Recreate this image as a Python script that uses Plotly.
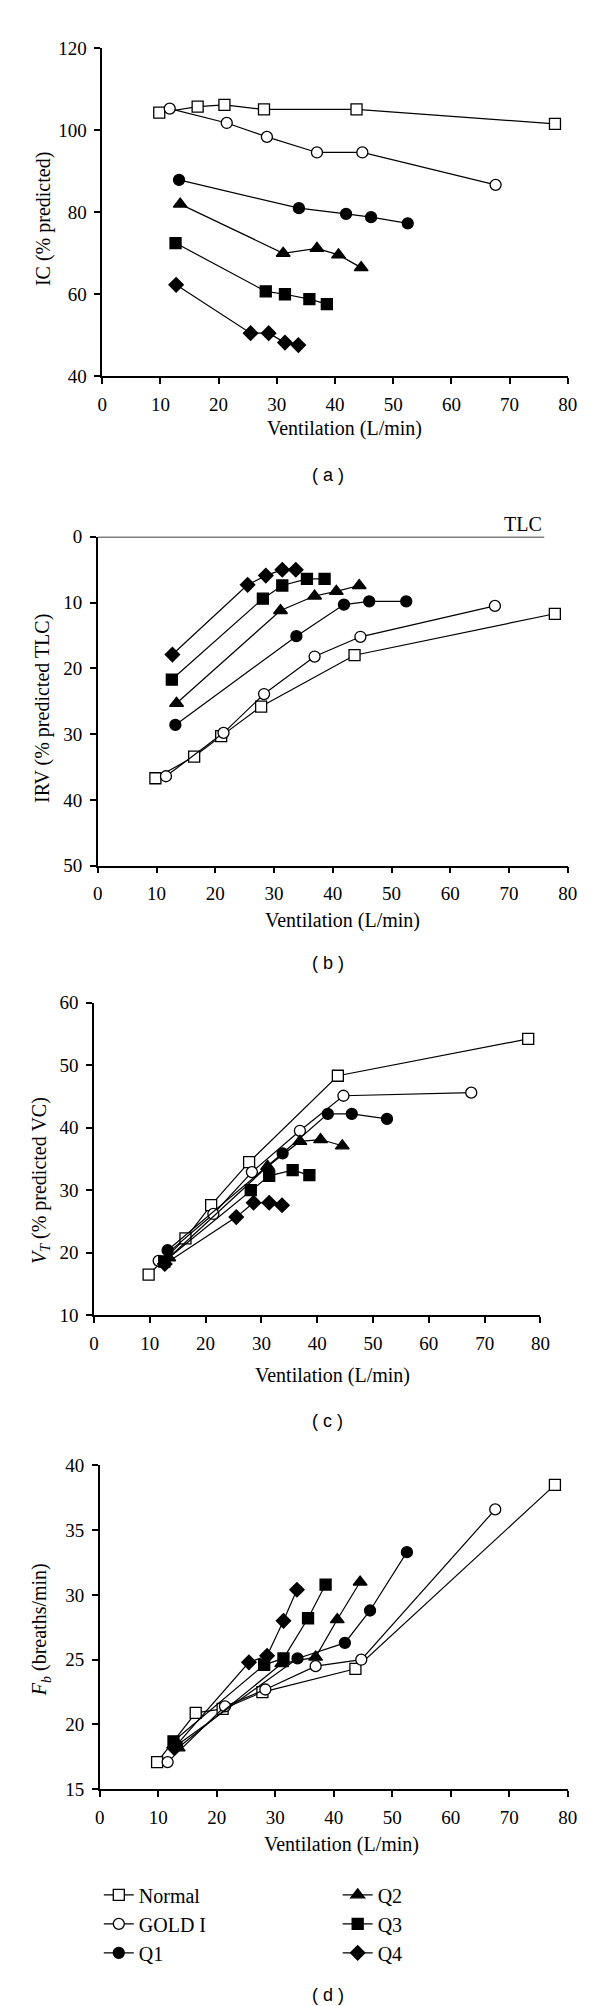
import plotly.graph_objects as go

W, H = 600, 2006

# ---------------- data ----------------
groups = ["Normal", "GOLD I", "Q1", "Q2", "Q3", "Q4"]

vent_normal = [9.8, 16.4, 21.0, 27.8, 43.7, 77.8]
vent_gold = [11.6, 21.4, 28.3, 36.9, 44.7, 67.6]
vent_q1 = [13.2, 33.8, 41.9, 46.2, 52.5]
vent_q2 = [13.4, 31.1, 36.9, 40.6, 44.5]
vent_q3 = [12.6, 28.1, 31.4, 35.6, 38.6]
vent_q4 = [12.7, 25.5, 28.6, 31.4, 33.7]

ic_normal = [104.3, 105.8, 106.2, 105.1, 105.1, 101.6]
ic_gold = [105.3, 101.8, 98.4, 94.6, 94.6, 86.7]
ic_q1 = [87.9, 81.0, 79.6, 78.8, 77.3]
ic_q2 = [82.0, 70.0, 71.2, 69.6, 66.5]
ic_q3 = [72.5, 60.7, 60.0, 58.8, 57.6]
ic_q4 = [62.3, 50.5, 50.5, 48.2, 47.6]

irv_normal = [36.7, 33.4, 30.3, 25.8, 18.0, 11.7]
irv_gold = [36.4, 29.8, 23.9, 18.2, 15.2, 10.5]
irv_q1 = [28.6, 15.1, 10.3, 9.8, 9.8]
irv_q2 = [25.3, 11.2, 9.0, 8.3, 7.4]
irv_q3 = [21.7, 9.4, 7.4, 6.4, 6.4]
irv_q4 = [17.9, 7.3, 5.9, 5.0, 5.0]

vt_normal = [16.5, 22.3, 27.6, 34.5, 48.3, 54.2]
vt_gold = [18.7, 26.2, 32.9, 39.5, 45.1, 45.6]
vt_q1 = [20.4, 35.9, 42.2, 42.2, 41.4]
vt_q2 = [19.2, 33.8, 37.8, 38.1, 37.1]
vt_q3 = [18.6, 30.0, 32.3, 33.2, 32.4]
vt_q4 = [18.2, 25.7, 28.0, 28.0, 27.6]

fb_normal = [17.1, 20.9, 21.2, 22.5, 24.3, 38.5]
fb_gold = [17.1, 21.4, 22.7, 24.5, 25.0, 36.6]
fb_q1 = [18.4, 25.1, 26.3, 28.8, 33.3]
fb_q2 = [18.2, 24.7, 25.2, 28.1, 31.0]
fb_q3 = [18.7, 24.6, 25.1, 28.2, 30.8]
fb_q4 = [18.2, 24.8, 25.3, 28.0, 30.4]

tlc_line_end = 76  # extent of TLC reference line (L/min)

vent = [vent_normal, vent_gold, vent_q1, vent_q2, vent_q3, vent_q4]
panels_y = [
    [ic_normal, ic_gold, ic_q1, ic_q2, ic_q3, ic_q4],
    [irv_normal, irv_gold, irv_q1, irv_q2, irv_q3, irv_q4],
    [vt_normal, vt_gold, vt_q1, vt_q2, vt_q3, vt_q4],
    [fb_normal, fb_gold, fb_q1, fb_q2, fb_q3, fb_q4],
]

# ---------------- styling ----------------
SERIF = "Liberation Serif"
SANS = "Liberation Sans"
symbols = ["square", "circle", "circle", "triangle-up", "square", "diamond"]
fills = ["white", "white", "black", "black", "black", "black"]
sizes = [11, 11, 11, 12, 11, 11]


def fx(p):
    return p / W


def fy(p):
    return 1 - p / H


# pixel layout of each panel: (x_left, x_right, y_top, y_bottom)
boxes = [
    (91.5, 569, 30.7, 362),
    (87, 569, 524.3, 856.7),
    (83, 541, 995, 1311),
    (89, 569, 1462.7, 1790),
]
yranges = [[40, 120], [50, 0], [10, 60], [15, 40]]
ytickvals = [
    [40, 60, 80, 100, 120],
    [0, 10, 20, 30, 40, 50],
    [10, 20, 30, 40, 50, 60],
    [15, 20, 25, 30, 35, 40],
]

fig = go.Figure()

for pi in range(4):
    xa = "x" if pi == 0 else f"x{pi+1}"
    ya = "y" if pi == 0 else f"y{pi+1}"
    for gi, g in enumerate(groups):
        show = pi == 3
        fig.add_trace(go.Scatter(
            x=vent[gi], y=panels_y[pi][gi],
            mode="lines+markers",
            name=g,
            xaxis=xa, yaxis=ya,
            line=dict(color="black", width=1.2),
            marker=dict(symbol=symbols[gi], size=sizes[gi], color=fills[gi],
                        line=dict(color="black", width=1.3)),
            cliponaxis=False,
            showlegend=show,
            legend="legend" if gi < 3 else "legend2",
        ))

axis_common = dict(
    showline=True, linecolor="black", linewidth=1.5,
    ticks="outside", ticklen=6, tickwidth=1.5, tickcolor="black",
    showgrid=False, zeroline=False,
    tickfont=dict(family=SERIF, size=19, color="black"),
    ticklabelstandoff=4,
)

layout = dict(
    width=W, height=H,
    margin=dict(l=0, r=0, t=0, b=0),
    paper_bgcolor="white", plot_bgcolor="white",
    font=dict(family=SERIF, color="black"),
)

for pi, (xl, xr, yt, yb) in enumerate(boxes):
    sfx = "" if pi == 0 else str(pi + 1)
    layout["xaxis" + sfx] = dict(
        axis_common, domain=[fx(xl), fx(xr)], range=[0, 80],
        tickvals=[0, 10, 20, 30, 40, 50, 60, 70, 80],
        anchor="y" + sfx,
    )
    layout["yaxis" + sfx] = dict(
        axis_common, domain=[fy(yb), fy(yt)], range=yranges[pi],
        tickvals=ytickvals[pi], anchor="x" + sfx,
    )

layout["legend"] = dict(
    x=fx(88), y=fy(1877), xanchor="left", yanchor="top",
    font=dict(family=SERIF, size=20, color="black"),
    bgcolor="rgba(0,0,0,0)", tracegroupgap=0,
)
layout["legend2"] = dict(
    x=fx(333), y=fy(1877), xanchor="left", yanchor="top",
    font=dict(family=SERIF, size=20, color="black"),
    bgcolor="rgba(0,0,0,0)", tracegroupgap=0,
)

fig.update_layout(**layout)

# TLC reference line on panel b
fig.add_shape(type="line", xref="x2", yref="y2", x0=0, x1=tlc_line_end,
              y0=0, y1=0, line=dict(color="black", width=1.5))

annotations = []
# x titles
for xc, yc in [(340, 415), (338, 911.7), (328, 1371.7), (337, 1846)]:
    annotations.append(dict(text="Ventilation (L/min)", x=fx(xc), y=fy(yc),
                            xref="paper", yref="paper", showarrow=False,
                            xanchor="center", yanchor="middle",
                            font=dict(family=SERIF, size=20, color="black")))
# y titles
ytitles = [
    ("IC (% predicted)", 32, 203),
    ("IRV (% predicted TLC)", 30, 698),
    ("<i>V</i><sub><i>T</i></sub> (% predicted VC)", 28, 1175),
    ("<i>F</i><sub><i>b</i></sub> (breaths/min)", 29, 1629),
]
for t, xc, yc in ytitles:
    annotations.append(dict(text=t, x=fx(xc), y=fy(yc), xref="paper", yref="paper",
                            showarrow=False, textangle=-90,
                            xanchor="center", yanchor="middle",
                            font=dict(family=SERIF, size=20, color="black")))
# captions
for t, yc in [("( a )", 462), ("( b )", 955), ("( c )", 1418), ("( d )", 1998)]:
    annotations.append(dict(text=t, x=fx(323), y=fy(yc), xref="paper", yref="paper",
                            showarrow=False, xanchor="center", yanchor="middle",
                            font=dict(family=SANS, size=18, color="black")))
# TLC label
annotations.append(dict(text="TLC", x=fx(523), y=fy(511.7), xref="paper", yref="paper",
                        showarrow=False, xanchor="center", yanchor="middle",
                        font=dict(family=SERIF, size=20, color="black")))

fig.update_layout(annotations=annotations)

fig.write_html("out.html")
